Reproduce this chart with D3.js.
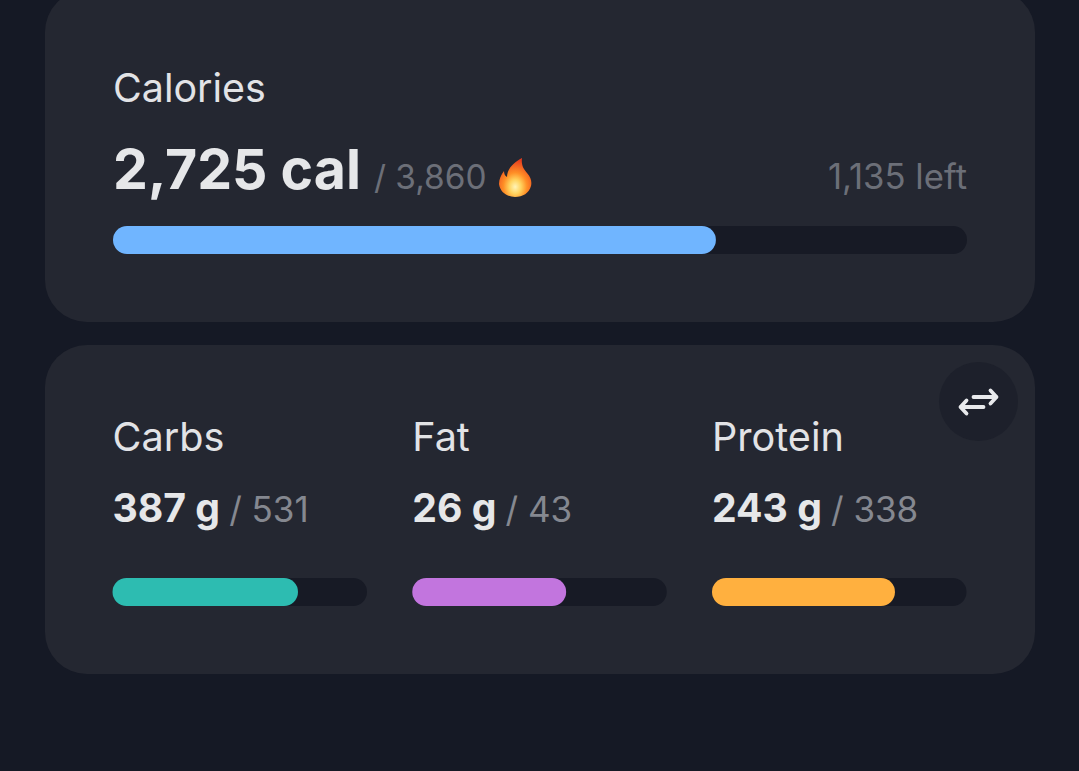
<!DOCTYPE html>
<html>
<head>
<meta charset="utf-8">
<script src="https://cdn.jsdelivr.net/npm/d3@7"></script>
<style>
  html, body { margin: 0; padding: 0; background: #151925; overflow: hidden; }
  text { font-family: Inter, "Noto Sans", sans-serif; }
</style>
</head>
<body>
<div id="chart"></div>
<script>
// data
var macroNames = ['Carbs', 'Fat', 'Protein'];
var macroValues = [387, 26, 243];
var macroGoals = [531, 43, 338];
var macroColors = ['#2dbcb1', '#c275de', '#ffb03f'];
var calorieValue = 2725;
var calorieGoal = 3860;

var fmt = d3.format(',');

var svg = d3.select('#chart').append('svg')
  .attr('width', 1079)
  .attr('height', 771)
  .style('display', 'block');

var defs = svg.append('defs');
var flame = defs.append('radialGradient')
  .attr('id', 'flame')
  .attr('cx', '50%').attr('cy', '74%').attr('r', '70%');
flame.append('stop').attr('offset', '0%').attr('stop-color', '#fff4b8');
flame.append('stop').attr('offset', '26%').attr('stop-color', '#ffd35e');
flame.append('stop').attr('offset', '52%').attr('stop-color', '#ff8f26');
flame.append('stop').attr('offset', '100%').attr('stop-color', '#e63c1e');

// cards
svg.append('rect')
  .attr('x', 45).attr('y', -10)
  .attr('width', 990).attr('height', 332)
  .attr('rx', 42)
  .attr('fill', '#242731');
svg.append('rect')
  .attr('x', 45).attr('y', 345)
  .attr('width', 990).attr('height', 329)
  .attr('rx', 42)
  .attr('fill', '#242731');

function bar(x0, x1, y, value, goal, color) {
  var x = d3.scaleLinear().domain([0, goal]).range([x0, x1]);
  svg.append('rect')
    .attr('x', x0).attr('y', y)
    .attr('width', x(goal) - x0).attr('height', 28)
    .attr('rx', 14)
    .attr('fill', '#171a25');
  svg.append('rect')
    .attr('x', x0).attr('y', y)
    .attr('width', x(value) - x0).attr('height', 28)
    .attr('rx', 14)
    .attr('fill', color);
}

// calories card
svg.append('text')
  .attr('x', 113).attr('y', 102)
  .attr('font-size', 39.4)
  .attr('fill', '#e2e3e6')
  .text('Calories');

var cal = svg.append('text')
  .attr('x', 113).attr('y', 189);
cal.append('tspan')
  .attr('font-size', 55.4)
  .attr('font-weight', 700)
  .attr('fill', '#e6e7e9')
  .text(fmt(calorieValue) + ' cal');
cal.append('tspan')
  .attr('font-size', 33.4)
  .attr('fill', '#6c6f78')
  .attr('dx', 13)
  .text('/ ' + fmt(calorieGoal));

var fire = svg.append('g').attr('transform', 'translate(515,178)');
fire.append('path')
  .attr('d', 'M7,-20 C6,-12 9,-9 12,-5 C16,-1 17,4 16,8 C14,15 8,19 0,19 C-8,19 -15,14 -16,6 C-16,1 -14,-3 -11,-7 C-11,-4 -10,-2 -8,-1 C-8,-9 -1,-16 7,-20 Z')
  .attr('fill', 'url(#flame)');

svg.append('text')
  .attr('x', 967).attr('y', 189)
  .attr('text-anchor', 'end')
  .attr('font-size', 34.7)
  .attr('fill', '#6c6f78')
  .text(fmt(calorieGoal - calorieValue) + ' left');

bar(113, 967, 226, calorieValue, calorieGoal, '#70b5ff');

// macros card
var macroX = d3.scalePoint().domain(macroNames).range([112.5, 712]);
var barWidth = 254.5;

macroNames.forEach(function (name, i) {
  var left = macroX(name);
  svg.append('text')
    .attr('x', left).attr('y', 451)
    .attr('font-size', 39.6)
    .attr('fill', '#e2e3e6')
    .text(name);

  var t = svg.append('text')
    .attr('x', left).attr('y', 522);
  t.append('tspan')
    .attr('font-size', 39.2)
    .attr('font-weight', 700)
    .attr('fill', '#e6e7e9')
    .text(macroValues[i] + ' g');
  t.append('tspan')
    .attr('font-size', 35)
    .attr('fill', '#858890')
    .attr('dx', 9)
    .text('/ ' + macroGoals[i]);

  bar(left, left + barWidth, 578, macroValues[i], macroGoals[i], macroColors[i]);
});

// swap button
var btn = svg.append('g').attr('transform', 'translate(978.5,401.5)');
btn.append('circle').attr('r', 39.5).attr('fill', '#1d202b');
btn.append('path')
  .attr('d', 'M-5,-4.500 H18 M12,-11 L18,-4.500 L12,2 M5,5.500 H-18 M-12,-1 L-18,5.500 L-12,12')
  .attr('fill', 'none')
  .attr('stroke', '#e8e9ec')
  .attr('stroke-width', 3.8)
  .attr('stroke-linecap', 'round')
  .attr('stroke-linejoin', 'round');
</script>
</body>
</html>
